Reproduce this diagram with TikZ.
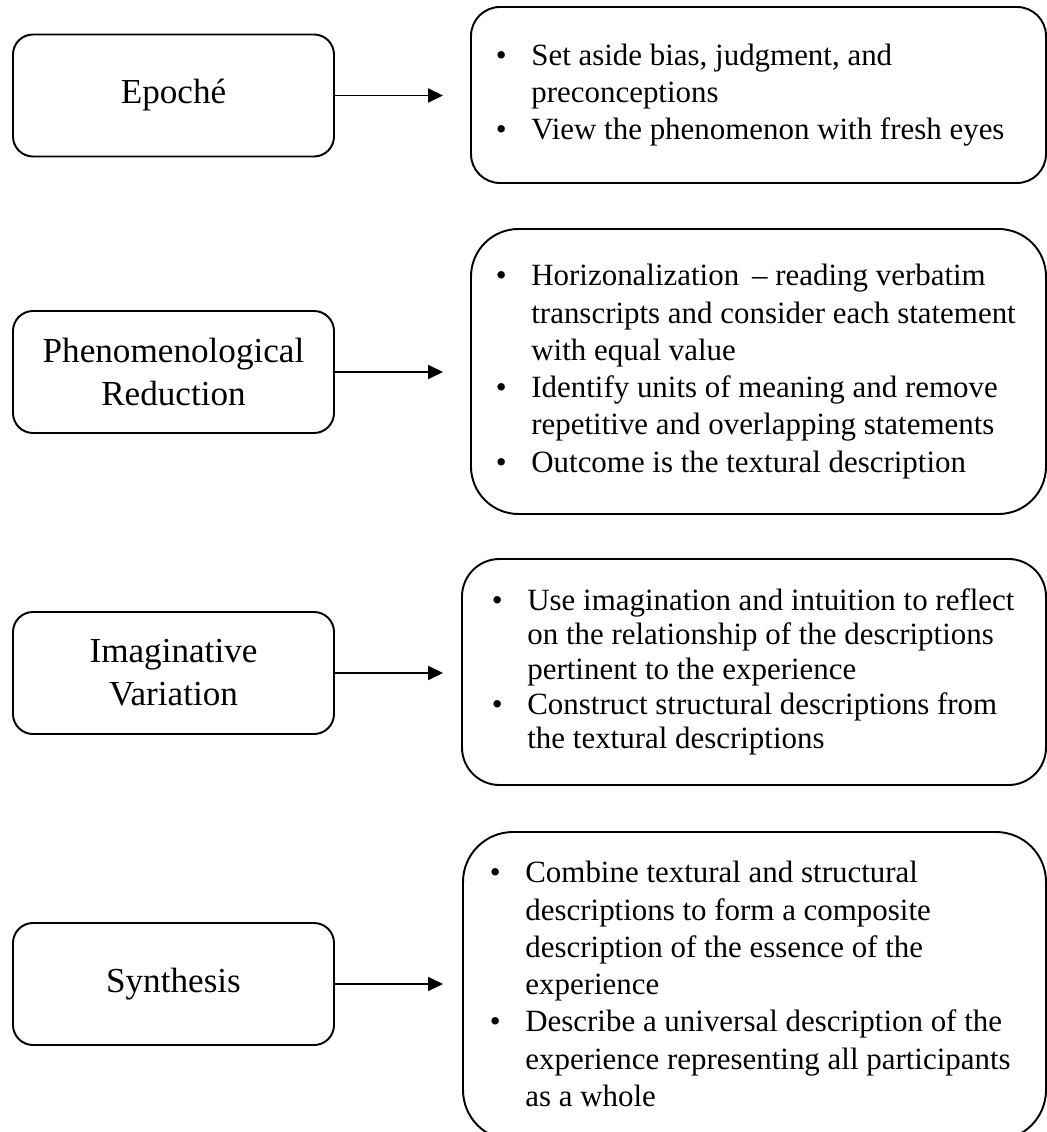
\documentclass[tikz,border=0pt]{standalone}
\usepackage{fontspec}
\setmainfont{Liberation Serif}
\usetikzlibrary{arrows.meta}
\newcommand{\bul}{\makebox[0.71cm][l]{\textbullet}}
\newcommand{\cont}{\hspace*{0.71cm}}

\begin{document}
\begin{tikzpicture}[
			stage/.style={draw, line width=1.1pt, rounded corners=0.4cm, minimum width=6.42cm, minimum height=2.44cm, inner sep=0pt, align=center, font=\fontsize{20}{24.6}\selectfont},
			notebox/.style={draw, line width=1.1pt, inner sep=0pt},
			notes/.style={anchor=west, inner sep=0pt, align=left, font=\fontsize{17.6}{21.2}\selectfont},
			flow/.style={line width=1.1pt, -{Triangle[length=3mm, width=2.8mm]}}
		]
			%%%%% START %%%%%
			
			\useasboundingbox (0, 0) rectangle (20.94, -22.64);
			
			% left column
			\node[stage] (epoche) at (3.47, -1.91) {Epoché};
			\node[stage] (phenred) at (3.47, -7.44) {Phenomenological\\Reduction};
			\node[stage] (imagvar) at (3.47, -13.46) {Imaginative\\Variation};
			\node[stage] (synth) at (3.47, -19.68) {Synthesis};
			
			% right column
			\node[notebox, rounded corners=0.58cm, minimum width=11.5cm, minimum height=3.52cm] (epochebox) at (15.17, -1.90) {};
			\node[notes] (epochetxt) at ([xshift=0.51cm]epochebox.west) {\bul Set aside bias, judgment, and\\ \cont preconceptions\\ \bul View the phenomenon with fresh eyes};
			
			\node[notebox, rounded corners=0.95cm, minimum width=11.5cm, minimum height=5.7cm] (phenredbox) at (15.17, -7.43) {};
			\node[notes] (phenredtxt) at ([xshift=0.51cm]phenredbox.west) {\bul Horizonalization \,– reading verbatim\\ \cont transcripts and consider each statement\\ \cont with equal value\\ \bul Identify units of meaning and remove\\ \cont repetitive and overlapping statements\\ \bul Outcome is the textural description};
			
			\node[notebox, rounded corners=0.75cm, minimum width=11.68cm, minimum height=4.52cm] (imagvarbox) at (15.08, -13.44) {};
			\node[notes, font=\fontsize{17.6}{19.7}\selectfont] (imagvartxt) at ([xshift=0.61cm]imagvarbox.west) {\bul Use imagination and intuition to reflect\\ \cont on the relationship of the descriptions\\ \cont pertinent to the experience\\ \bul Construct structural descriptions from\\ \cont the textural descriptions};
			
			\node[notebox, rounded corners=1.0cm, minimum width=11.66cm, minimum height=6.16cm] (synthbox) at (15.09, -19.72) {};
			\node[notes] (synthtxt) at ([xshift=0.55cm]synthbox.west |- synth.east) {\bul Combine textural and structural\\ \cont descriptions to form a composite\\ \cont description of the essence of the\\ \cont experience\\ \bul Describe a universal description of the\\ \cont experience representing all participants\\ \cont as a whole};
			
			% arrow ends
			\coordinate (tipA) at (8.86, -1.91);
			\coordinate (tipB) at (8.86, -7.44);
			\coordinate (tipC) at (8.86, -13.46);
			\coordinate (tipD) at (8.86, -19.68);
			
			\draw[flow] (epoche.east) -- (tipA);
			\draw[flow] (phenred.east) -- (tipB);
			\draw[flow] (imagvar.east) -- (tipC);
			\draw[flow] (synth.east) -- (tipD);
			
			%%%%% END %%%%%
\end{tikzpicture}
\end{document}
